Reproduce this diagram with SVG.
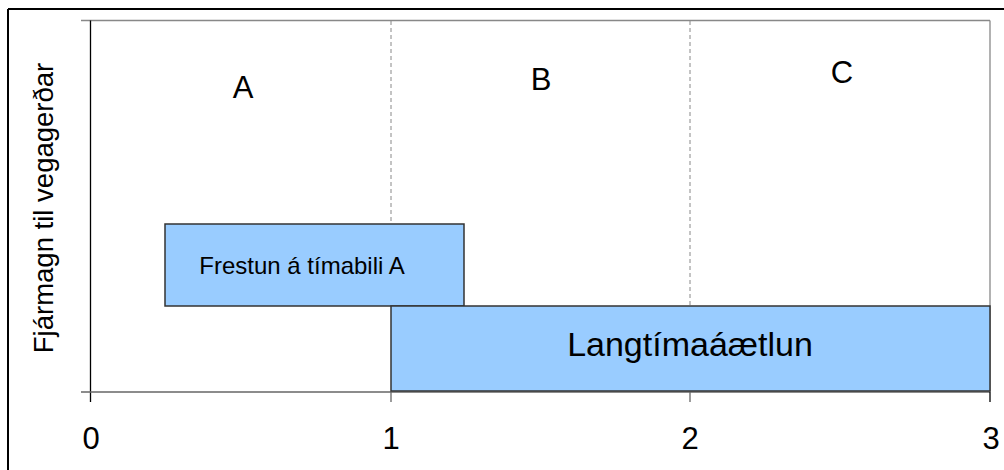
<svg xmlns="http://www.w3.org/2000/svg" width="1004" height="470" viewBox="0 0 1004 470">
<style>
text{font-family:"Liberation Sans",Arial,sans-serif;fill:#000}
.bar{fill:#99CCFF;stroke:#333;stroke-width:1.5}
.ax{stroke:#000;stroke-width:1.3;fill:none}
.grid{stroke:#888;stroke-width:1;stroke-dasharray:4,3}
.tick{stroke:#666;stroke-width:1.3}
.lbl{font-size:31px;text-anchor:middle}
.frame{stroke:#000;stroke-width:2;fill:none}
</style>
<rect x="0" y="0" width="1004" height="470" fill="#fff"/>
<g id="frame">
<line class="frame" x1="8" y1="9" x2="1004" y2="9"/>
<line class="frame" x1="8" y1="9" x2="8" y2="470"/>
</g>
<g id="axes">
<line x1="81" y1="20.5" x2="990" y2="20.5" stroke="#888" stroke-width="1.3"/>
<line x1="990" y1="20.5" x2="990" y2="392" stroke="#888" stroke-width="1.3"/>
<line class="grid" x1="391" y1="21" x2="391" y2="306"/>
<line class="grid" x1="690" y1="21" x2="690" y2="306"/>
<line class="ax" x1="90.5" y1="20.5" x2="90.5" y2="402"/>
<line class="tick" x1="81" y1="392" x2="990" y2="392"/>
<line class="tick" x1="391" y1="392" x2="391" y2="402"/>
<line class="tick" x1="690" y1="392" x2="690" y2="402"/>
<line class="ax" x1="990" y1="392" x2="990" y2="402"/>
</g>
<g id="node-frestun">
<rect class="bar" x="165" y="224" width="299" height="82"/>
<text x="302" y="274" font-size="24" text-anchor="middle">Frestun á tímabili A</text>
</g>
<g id="node-langtima">
<rect class="bar" x="391" y="306" width="599" height="85"/>
<text x="690" y="356" font-size="34" text-anchor="middle">Langtímaáætlun</text>
</g>
<g id="labels">
<text class="lbl" x="243" y="98">A</text>
<text class="lbl" x="541" y="90">B</text>
<text class="lbl" x="842" y="82.5">C</text>
<text class="lbl" x="91" y="449">0</text>
<text class="lbl" x="391" y="449">1</text>
<text class="lbl" x="690" y="449">2</text>
<text class="lbl" x="991" y="449">3</text>
<text x="0" y="0" font-size="27.5" text-anchor="middle" transform="translate(53,208) rotate(-90)">Fjármagn til vegagerðar</text>
</g>
</svg>
